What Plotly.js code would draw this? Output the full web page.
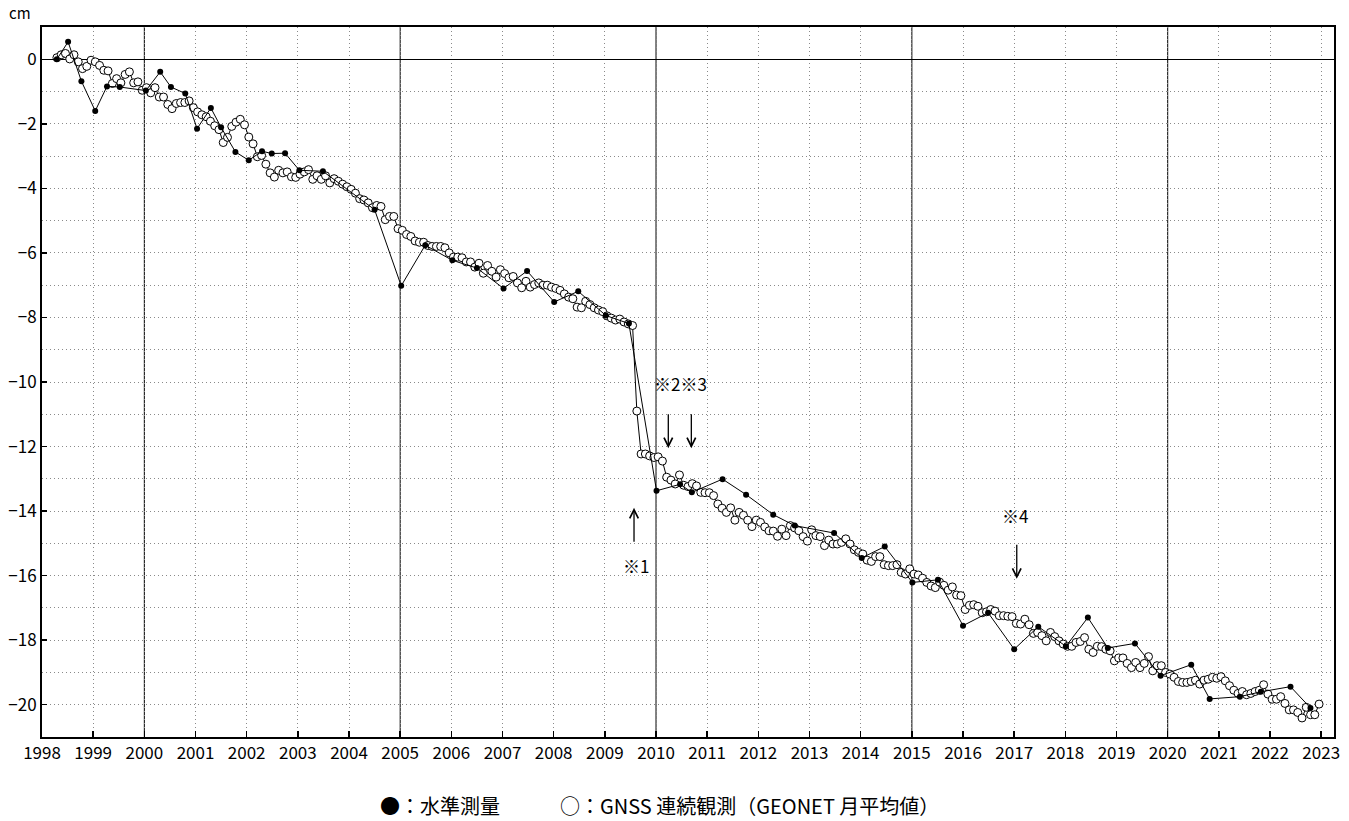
<!DOCTYPE html>
<html>
<head>
<meta charset="utf-8">
<script src="https://cdn.plot.ly/plotly-3.0.1.min.js"></script>
<style>
  html, body { margin: 0; padding: 0; background: #fff; }
  #chart { width: 1349px; height: 821px; }
</style>
</head>
<body>
<div id="chart"></div>
<script>
// ---- Leveling survey (水準測量) : decimal year / cm ----
const levelYears = [1998.29, 1998.51, 1998.77, 1999.04, 1999.27, 1999.52, 2000.03, 2000.31, 2000.52, 2000.80,
  2001.03, 2001.30, 2001.50, 2001.78, 2002.04, 2002.30, 2002.49, 2002.75, 2003.03, 2003.49,
  2004.50, 2005.02, 2005.49, 2006.02, 2006.50, 2007.02, 2007.48, 2008.01, 2008.48, 2009.02,
  2009.47, 2010.01, 2010.47, 2010.70, 2011.30, 2011.76, 2012.29, 2012.71, 2013.48, 2014.02,
  2014.47, 2015.01, 2015.51, 2016.00, 2016.49, 2017.00, 2017.47, 2018.01, 2018.44, 2018.83,
  2019.36, 2019.86, 2020.46, 2020.82, 2021.41, 2021.82, 2022.40, 2022.79];
const levelValues = [0.00, 0.54, -0.68, -1.60, -0.84, -0.86, -0.97, -0.39, -0.86, -1.06,
  -2.15, -1.51, -2.11, -2.87, -3.13, -2.85, -2.92, -2.91, -3.44, -3.47,
  -4.66, -7.02, -5.76, -6.23, -6.47, -7.10, -6.56, -7.52, -7.19, -7.94,
  -8.19, -13.37, -13.17, -13.42, -13.01, -13.49, -14.11, -14.45, -14.68, -15.45,
  -15.10, -16.21, -16.13, -17.55, -17.15, -18.28, -17.58, -18.19, -17.30, -18.24,
  -18.10, -19.10, -18.76, -19.82, -19.75, -19.60, -19.44, -20.10];

// ---- GNSS monthly means (GEONET 月平均値), Jan..Dec per year, cm ----
const gnssYears = [1998, 1999, 2000, 2001, 2002, 2003, 2004, 2005, 2006, 2007, 2008, 2009, 2010,
  2011, 2012, 2013, 2014, 2015, 2016, 2017, 2018, 2019, 2020, 2021, 2022];
const g1998 = [null, null, null, 0.05, 0.14, 0.18, 0.01, 0.14, -0.08, -0.29, -0.22, -0.03];
const g1999 = [-0.08, -0.19, -0.34, -0.36, -0.75, -0.60, -0.73, -0.47, -0.39, -0.73, -0.70, -0.96];
const g2000 = [-0.88, -1.04, -0.88, -1.17, -1.17, -1.40, -1.53, -1.37, -1.34, -1.34, -1.29, -1.50];
const g2001 = [-1.63, -1.72, -1.78, -1.92, -2.06, -2.18, -2.58, -2.42, -2.08, -1.95, -1.86, -2.03];
const g2002 = [-2.41, -2.62, -3.02, -2.98, -3.25, -3.52, -3.65, -3.44, -3.52, -3.49, -3.64, -3.66];
const g2003 = [-3.56, -3.49, -3.42, -3.72, -3.61, -3.72, -3.61, -3.83, -3.70, -3.78, -3.87, -3.95];
const g2004 = [-4.03, -4.15, -4.32, -4.36, -4.45, -4.60, -4.53, -4.56, -4.97, -4.87, -4.87, -5.25];
const g2005 = [-5.30, -5.43, -5.49, -5.63, -5.67, -5.67, -5.77, -5.80, -5.80, -5.80, -5.84, -6.00];
const g2006 = [-6.13, -6.13, -6.15, -6.28, -6.28, -6.44, -6.32, -6.63, -6.39, -6.57, -6.75, -6.52];
const g2007 = [-6.64, -6.77, -6.73, -6.93, -7.08, -6.88, -7.06, -6.98, -6.93, -7.00, -7.00, -7.06];
const g2008 = [-7.10, -7.16, -7.27, -7.37, -7.42, -7.68, -7.70, -7.50, -7.60, -7.70, -7.77, -7.82];
const g2009 = [-7.95, -8.02, -8.08, -8.05, -8.14, -8.20, -8.25, -10.90, -12.23, -12.23, -12.29, -12.34];
const g2010 = [-12.32, -12.45, -12.95, -13.04, -13.16, -12.88, -13.20, -13.24, -13.15, -13.22, -13.42, -13.43];
const g2011 = [-13.43, -13.52, -13.78, -13.91, -14.04, -13.90, -14.28, -14.04, -14.13, -14.28, -14.48, -14.28];
const g2012 = [-14.35, -14.49, -14.61, -14.62, -14.78, -14.56, -14.76, -14.45, -14.52, -14.61, -14.79, -14.93];
const g2013 = [-14.58, -14.76, -14.79, -15.07, -14.90, -15.02, -15.02, -14.97, -14.86, -15.02, -15.20, -15.28];
const g2014 = [-15.33, -15.52, -15.56, -15.41, -15.41, -15.66, -15.69, -15.69, -15.66, -15.90, -15.95, -15.79];
const g2015 = [-15.95, -15.98, -16.08, -16.21, -16.32, -16.37, -16.20, -16.30, -16.45, -16.35, -16.60, -16.62];
const g2016 = [-17.05, -16.92, -16.90, -16.95, -17.15, -17.12, -17.05, -17.10, -17.24, -17.24, -17.26, -17.27];
const g2017 = [-17.48, -17.50, -17.35, -17.52, -17.79, -17.76, -17.86, -18.02, -17.76, -17.89, -18.02, -18.12];
const g2018 = [-18.19, -18.19, -18.07, -18.04, -17.92, -18.28, -18.38, -18.19, -18.20, -18.28, -18.33, -18.64];
const g2019 = [-18.55, -18.55, -18.72, -18.85, -18.69, -18.85, -18.72, -18.51, -18.95, -18.79, -18.79, -19.00];
const g2020 = [-19.05, -19.15, -19.28, -19.31, -19.31, -19.28, -19.24, -19.36, -19.24, -19.21, -19.15, -19.18];
const g2021 = [-19.13, -19.26, -19.41, -19.55, -19.65, -19.59, -19.69, -19.65, -19.59, -19.55, -19.38, -19.67];
const g2022 = [-19.83, -19.83, -19.75, -19.96, -20.16, -20.16, -20.24, -20.41, -20.08, -20.31, -20.31, -19.98];
const gnssByYear = [g1998, g1999, g2000, g2001, g2002, g2003, g2004, g2005, g2006, g2007, g2008, g2009, g2010,
  g2011, g2012, g2013, g2014, g2015, g2016, g2017, g2018, g2019, g2020, g2021, g2022];

// ---- axis ticks / labels ----
const xTickYears = [1998, 1999, 2000, 2001, 2002, 2003, 2004, 2005, 2006, 2007, 2008, 2009, 2010, 2011,
  2012, 2013, 2014, 2015, 2016, 2017, 2018, 2019, 2020, 2021, 2022, 2023];
const xTickLabels = xTickYears.map(String);
const yTickVals = [0, -2, -4, -6, -8, -10, -12, -14, -16, -18, -20];
const solidYears = [2000, 2005, 2010, 2015, 2020];
const legendText = '●：水準測量　　　○：GNSS 連続観測（GEONET 月平均値）';

// Build GNSS monthly points (month centres)
const gx = [], gy = [];
gnssYears.forEach((yr, i) => {
  gnssByYear[i].forEach((v, m) => {
    if (v !== null) { gx.push(yr + (m + 0.5) / 12); gy.push(v); }
  });
});

const FONT = "'Noto Sans CJK JP', sans-serif";
const GRID = '#8a8a8a';
const DOTS = '1px,3px';

const traces = [
  {
    x: gx, y: gy, type: 'scatter', mode: 'lines+markers',
    line: { color: '#000', width: 1 },
    marker: { symbol: 'circle', size: 8, color: '#fff', line: { color: '#000', width: 1 } },
    showlegend: false, hoverinfo: 'skip'
  },
  {
    x: levelYears, y: levelValues, type: 'scatter', mode: 'lines+markers',
    line: { color: '#000', width: 1 },
    marker: { symbol: 'circle', size: 6, color: '#000' },
    showlegend: false, hoverinfo: 'skip'
  }
];

const shapes = solidYears.map(yr => ({
  type: 'line', xref: 'x', yref: 'paper', x0: yr, x1: yr, y0: 0, y1: 1,
  line: { color: '#000', width: 1 }, layer: 'below'
}));

function arrow(xh, yh, yt) {
  return { x: xh, y: yh, ax: xh, ay: yt, xref: 'x', yref: 'y', axref: 'x', ayref: 'y',
    text: '', showarrow: true, arrowhead: 5, arrowsize: 1.3, arrowwidth: 1.3, arrowcolor: '#000' };
}
function label(x, y, t) {
  return { x: x, y: y, xref: 'x', yref: 'y', text: t, showarrow: false,
    font: { family: FONT, size: 17, color: '#000' } };
}

const annotations = [
  arrow(2009.57, -13.9, -15.0),
  arrow(2010.24, -12.05, -10.95),
  arrow(2010.69, -12.05, -10.95),
  arrow(2017.05, -16.1, -15.0),
  label(2009.61, -15.69, '※1'),
  label(2010.47, -10.05, '※2※3'),
  label(2017.01, -14.14, '※4'),
  { xref: 'paper', yref: 'paper', x: -0.017, y: 1.021, text: 'cm', showarrow: false,
    xanchor: 'center', yanchor: 'middle', font: { family: FONT, size: 15, color: '#000' } },
  { xref: 'paper', yref: 'paper', x: 0.478, y: -0.097, text: legendText, showarrow: false,
    xanchor: 'center', yanchor: 'middle', font: { family: FONT, size: 20, color: '#000' } }
];

const layout = {
  width: 1349, height: 821,
  margin: { l: 42, r: 15, t: 27, b: 84 },
  paper_bgcolor: '#fff', plot_bgcolor: '#fff',
  font: { family: FONT, size: 17, color: '#000' },
  showlegend: false,
  xaxis: {
    range: [1998, 2023.25],
    tickvals: xTickYears, ticktext: xTickLabels,
    ticks: 'inside', ticklen: 6, tickwidth: 1.5, tickcolor: '#000',
    showgrid: true, gridcolor: GRID, griddash: DOTS, gridwidth: 1,
    showline: true, linecolor: '#000', linewidth: 2, mirror: true,
    zeroline: false,
    tickfont: { family: FONT, size: 17, color: '#000' }
  },
  yaxis: {
    range: [-21, 1],
    tickvals: yTickVals,
    ticks: 'inside', ticklen: 5, tickwidth: 1.5, tickcolor: '#000',
    showgrid: true, gridcolor: GRID, griddash: DOTS, gridwidth: 1,
    minor: { dtick: 1, tick0: 0, showgrid: true, gridcolor: GRID, griddash: DOTS, gridwidth: 1, ticks: '' },
    showline: true, linecolor: '#000', linewidth: 2, mirror: true,
    zeroline: true, zerolinecolor: '#000', zerolinewidth: 1,
    tickfont: { family: FONT, size: 17, color: '#000' }
  },
  shapes: shapes,
  annotations: annotations
};

Plotly.newPlot('chart', traces, layout, { staticPlot: true, displayModeBar: false });
</script>
</body>
</html>
